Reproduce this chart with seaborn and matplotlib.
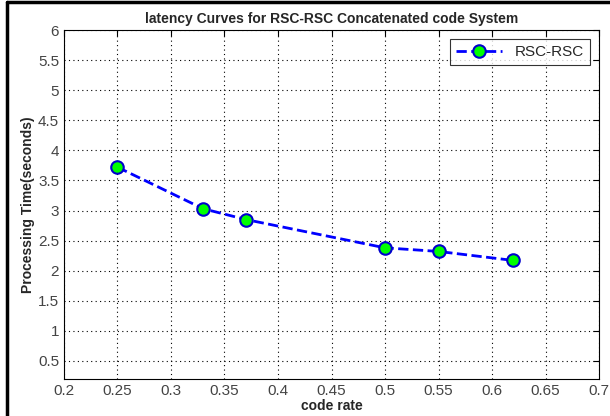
import seaborn as sns
import matplotlib.pyplot as plt
import pandas as pd
from matplotlib.lines import Line2D

# data
code_rate = [0.25, 0.33, 0.37, 0.5, 0.55, 0.62]
proc_time = [3.72, 3.03, 2.85, 2.38, 2.32, 2.17]
x_ticks = [0.2, 0.25, 0.3, 0.35, 0.4, 0.45, 0.5, 0.55, 0.6, 0.65, 0.7]
y_ticks = [0.5, 1, 1.5, 2, 2.5, 3, 3.5, 4, 4.5, 5, 5.5, 6]

df = pd.DataFrame({"code rate": code_rate, "time": proc_time, "series": "RSC-RSC"})

sns.set_style("white")
plt.rcParams['font.family'] = ['Liberation Sans', 'DejaVu Sans']

fig = plt.figure(figsize=(6.1, 4.16), dpi=100)
ax = fig.add_axes([64 / 610, 1 - 379 / 416, (599 - 64) / 610, (379 - 30) / 416])

sns.lineplot(data=df, x="code rate", y="time", hue="series", palette=["#0000ff"],
             ax=ax, linestyle="--", linewidth=2, marker="o", markersize=9,
             markerfacecolor="#00ff00", markeredgecolor="#0000cc", markeredgewidth=1.5)

ax.set_xlim(0.2, 0.7)
ax.set_ylim(0.2, 6)
ax.set_xticks(x_ticks)
ax.set_xticklabels([f"{t:g}" for t in x_ticks])
ax.set_yticks(y_ticks)
ax.set_yticklabels([f"{t:g}" for t in y_ticks])
ax.tick_params(direction="in", top=True, right=True, length=4, width=0.8,
               labelsize=11, labelcolor="#444444", color="black")
ax.grid(True, linestyle=(0, (1, 3)), color="black", linewidth=0.8)
for s in ax.spines.values():
    s.set_color("black")
    s.set_linewidth(0.8)

ax.set_title("latency Curves for RSC-RSC Concatenated code System",
             fontsize=10, fontweight="bold", pad=5)
ax.set_xlabel("code rate", fontsize=10, fontweight="bold", labelpad=1)
ax.set_ylabel("Processing Time(seconds)", fontsize=10, fontweight="bold", labelpad=2)

leg = ax.legend(loc="upper right", fontsize=11, frameon=True, fancybox=False,
                borderaxespad=0.6, handlelength=3)
leg.get_frame().set_edgecolor("black")
leg.get_frame().set_linewidth(0.8)

# image frame lines on left and top
fig.add_artist(Line2D([7 / 610, 7 / 610], [0, 1 - 2 / 416], color="black", linewidth=2.5))
fig.add_artist(Line2D([7 / 610, 1], [1 - 2 / 416, 1 - 2 / 416], color="black", linewidth=2.5))

fig.savefig("out.png", dpi=100)
